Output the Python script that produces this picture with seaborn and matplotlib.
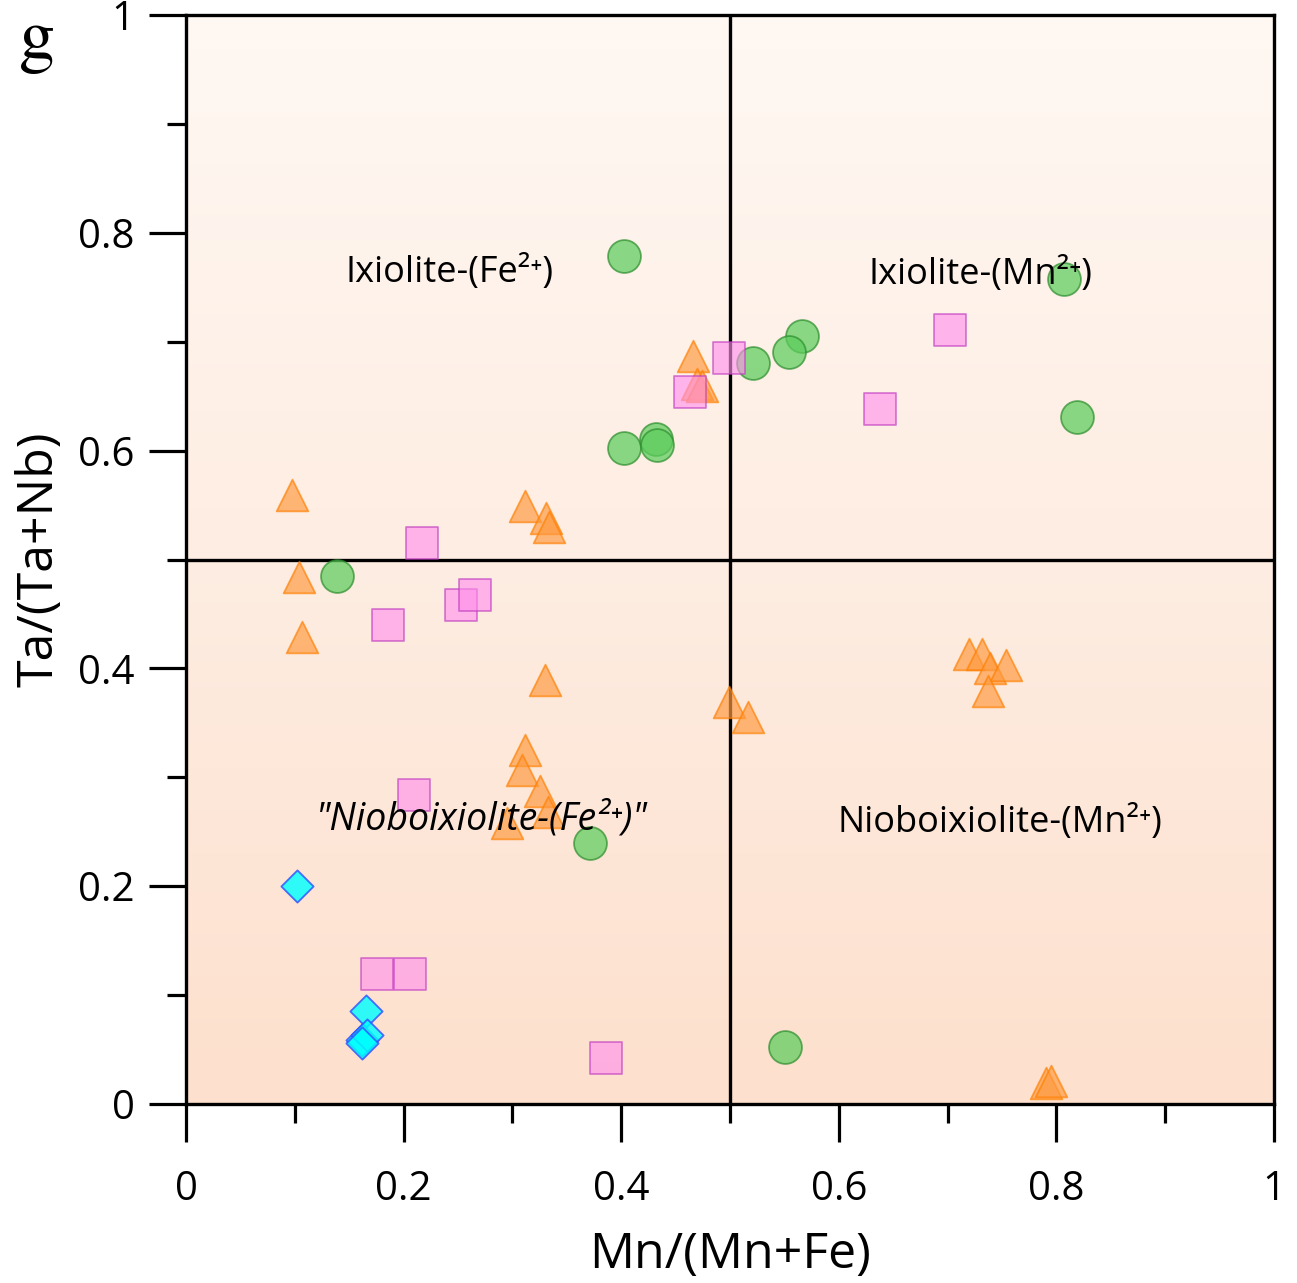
import numpy as np
import pandas as pd
import matplotlib
matplotlib.use("Agg")
import matplotlib.pyplot as plt
import seaborn as sns
from matplotlib.ticker import FixedLocator, FuncFormatter
from matplotlib.colors import LinearSegmentedColormap

# ---- data ----
circle_x = [0.403, 0.807, 0.566, 0.554, 0.521, 0.819, 0.403, 0.432, 0.433, 0.139, 0.371, 0.551]
circle_y = [0.779, 0.758, 0.705, 0.691, 0.680, 0.631, 0.602, 0.611, 0.605, 0.485, 0.240, 0.052]

tri_x = [0.097, 0.104, 0.107, 0.312, 0.331, 0.334, 0.466, 0.470, 0.474,
         0.330, 0.312, 0.309, 0.325, 0.333, 0.295, 0.499, 0.517,
         0.720, 0.732, 0.739, 0.754, 0.737, 0.790, 0.795]
tri_y = [0.559, 0.484, 0.429, 0.549, 0.538, 0.530, 0.687, 0.661, 0.659,
         0.389, 0.325, 0.307, 0.287, 0.268, 0.258, 0.369, 0.355,
         0.413, 0.413, 0.400, 0.403, 0.379, 0.019, 0.021]

sq_x = [0.217, 0.186, 0.253, 0.266, 0.210, 0.176, 0.206, 0.386, 0.463, 0.499, 0.638, 0.702]
sq_y = [0.515, 0.440, 0.458, 0.467, 0.284, 0.119, 0.119, 0.042, 0.654, 0.685, 0.638, 0.711]

dia_x = [0.102, 0.165, 0.162, 0.166, 0.162]
dia_y = [0.200, 0.085, 0.059, 0.063, 0.056]

x_ticks = [0, 0.2, 0.4, 0.6, 0.8, 1]
x_tick_labels = ["0", "0.2", "0.4", "0.6", "0.8", "1"]
y_ticks = [0, 0.2, 0.4, 0.6, 0.8, 1]
y_tick_labels = ["0", "0.2", "0.4", "0.6", "0.8", "1"]
minor_ticks = [0.1, 0.3, 0.5, 0.7, 0.9]

region_labels = ["Ixiolite-(Fe²⁺)", "Ixiolite-(Mn²⁺)",
                 "\"Nioboixiolite-(Fe²⁺)\"", "Nioboixiolite-(Mn²⁺)"]
region_pos = [(0.242, 0.763), (0.730, 0.761), (0.272, 0.261), (0.748, 0.258)]
region_style = ["normal", "normal", "italic", "normal"]
region_size = [26, 26, 27, 26]

# ---- styling ----
sns.set_theme(style="white")
plt.rcParams['font.family'] = ['Open Sans', 'DejaVu Sans']

W, H, DPI = 1297, 1283, 100
fig = plt.figure(figsize=(W / DPI, H / DPI), dpi=DPI)
ax = fig.add_axes([186 / W, (H - 1104) / H, (1274 - 186) / W, (1104 - 15) / H])

# gradient background
cmap = LinearSegmentedColormap.from_list("bg", ["#fde0cd", "#feede2", "#fff8f3"])
grad = np.linspace(0, 1, 256).reshape(-1, 1)
ax.imshow(grad, extent=[0, 1, 0, 1], origin="lower", aspect="auto", cmap=cmap, zorder=0)

groups = [
    (circle_x, circle_y, "o", "#5ccd5c", "#2f8f2f", 560, 0.72),
    (tri_x, tri_y, "^", "#ff9a40", "#ff7f00", 520, 0.68),
    (sq_x, sq_y, "s", "#ff8fec", "#c03cc0", 560, 0.62),
    (dia_x, dia_y, "D", "#00ffff", "#3050ff", 270, 0.82),
]
for xs, ys, mk, fc, ec, s, a in groups:
    df = pd.DataFrame({"x": xs, "y": ys})
    sns.scatterplot(data=df, x="x", y="y", marker=mk, s=s, color=fc, edgecolor=ec,
                    linewidth=1.3, alpha=a, ax=ax, zorder=3, legend=False)

ax.axvline(0.5, color="black", lw=2.4, zorder=2)
ax.axhline(0.5, color="black", lw=2.4, zorder=2)

for txt, (tx, ty), st, fs in zip(region_labels, region_pos, region_style, region_size):
    ax.text(tx, ty, txt, ha="center", va="center", fontsize=fs, fontstyle=st,
            color="black", zorder=5, family=['Open Sans', 'DejaVu Sans'])

ax.set_xlim(0, 1)
ax.set_ylim(0, 1)
ax.xaxis.set_major_locator(FixedLocator(x_ticks))
ax.yaxis.set_major_locator(FixedLocator(y_ticks))
ax.xaxis.set_minor_locator(FixedLocator(minor_ticks))
ax.yaxis.set_minor_locator(FixedLocator(minor_ticks))
ax.xaxis.set_major_formatter(FuncFormatter(lambda v, p: x_tick_labels[p] if p is not None and p < len(x_tick_labels) else ""))
ax.yaxis.set_major_formatter(FuncFormatter(lambda v, p: y_tick_labels[p] if p is not None and p < len(y_tick_labels) else ""))

ax.tick_params(axis="both", which="major", direction="out", length=27, width=2.3,
               color="black", labelsize=29, labelcolor="black")
ax.tick_params(axis="both", which="minor", direction="out", length=13.5, width=2.3, color="black")
ax.tick_params(axis="x", which="major", pad=20)
ax.tick_params(axis="y", which="major", pad=10)
ax.tick_params(bottom=True, left=True, top=False, right=False)
ax.tick_params(which="minor", bottom=True, left=True, top=False, right=False)

for sp in ax.spines.values():
    sp.set_visible(True)
    sp.set_color("black")
    sp.set_linewidth(2.4)
    sp.set_zorder(6)

ax.set_xlabel("Mn/(Mn+Fe)", fontsize=36, labelpad=15, color="black")
ax.set_ylabel("Ta/(Ta+Nb)", fontsize=36, labelpad=10, color="black")
ax.grid(False)

fig.text(36 / W, 1 - 40 / H, r"$\mathrm{g}$", fontsize=52, math_fontfamily="stix",
         ha="center", va="center", color="black")

fig.savefig("out.png", dpi=DPI)
